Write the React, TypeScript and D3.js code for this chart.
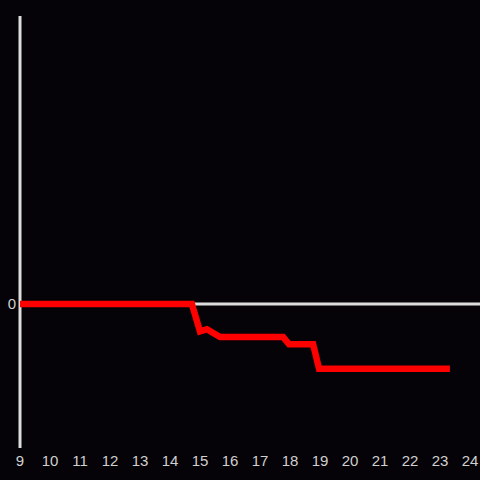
import React from "react";
import * as d3 from "d3";

const xs = [9, 14.73, 15.0, 15.23, 15.67, 17.77, 17.97, 18.77, 18.97, 23.33];
const ys = [0, 0, -0.19, -0.175, -0.23, -0.23, -0.28, -0.28, -0.45, -0.45];
const xTicks = [9, 10, 11, 12, 13, 14, 15, 16, 17, 18, 19, 20, 21, 22, 23, 24];
const yTicks = [0];

export default function App() {
  const W = 480, H = 480;
  const x = d3.scaleLinear().domain([9, 24]).range([20, 470]);
  const y = d3.scaleLinear().domain([-1, 2]).range([448, 16]);
  const pts: [number, number][] = xs.map((v, i) => [v, ys[i]]);
  const line = d3.line<[number, number]>().x(d => x(d[0])).y(d => y(d[1]));
  const font = "'Liberation Sans', Arial, sans-serif";
  return (
    <svg width={W} height={H} style={{ position: "absolute", left: 0, top: 0, display: "block" }}>
      <rect x={0} y={0} width={W} height={H} fill="#050307" />
      <line x1={x(9)} x2={W} y1={y(0)} y2={y(0)} stroke="#dddddd" strokeWidth={3} />
      <line x1={x(9)} x2={x(9)} y1={16} y2={448} stroke="#dddddd" strokeWidth={3} />
      <path d={line(pts) || ""} fill="none" stroke="#ff0000" strokeWidth={6.5} strokeLinejoin="miter" strokeLinecap="butt" />
      {xTicks.map(t => (
        <text key={t} x={x(t)} y={466} textAnchor="middle" fill="#d0d0d0" fontSize={15} fontFamily={font}>{t}</text>
      ))}
      {yTicks.map(t => (
        <text key={t} x={16} y={y(t) + 5} textAnchor="end" fill="#d0d0d0" fontSize={15} fontFamily={font}>{t}</text>
      ))}
    </svg>
  );
}
